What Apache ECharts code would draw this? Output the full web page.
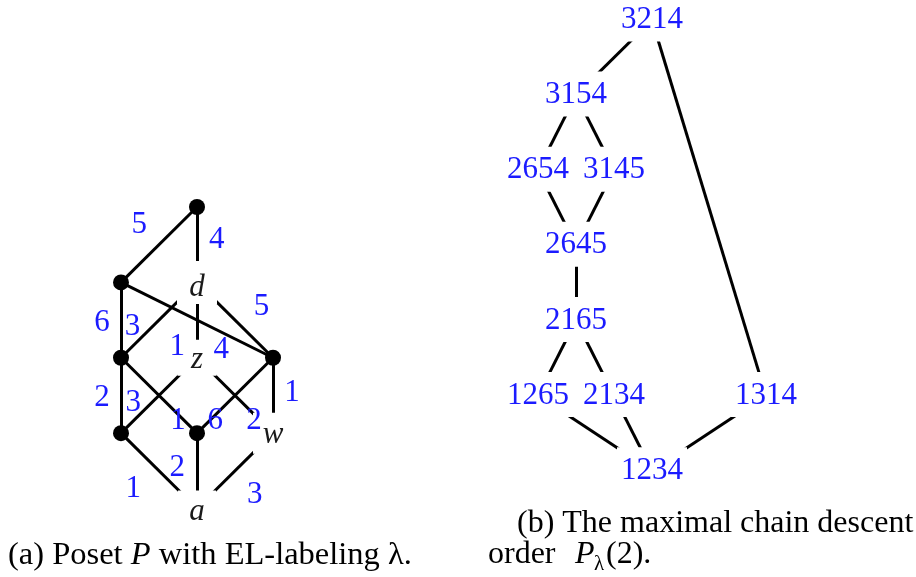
<!DOCTYPE html>
<html><head><meta charset="utf-8">
<script src="https://cdn.jsdelivr.net/npm/echarts@6/dist/echarts.min.js"></script>
<style>html,body{margin:0;padding:0;background:#fff}#c{width:916px;height:577px}</style>
</head><body><div id="c"></div>
<script>
// ---------- Panel (a): poset P with EL-labeling ----------
const posetNodes = ['top', 'u', 'd', 'm', 'z', 'r', 'l', 'c', 'w', 'a'];
const posetCol   = [1, 0, 1, 0, 1, 2, 0, 1, 2, 1];
const posetRank  = [4, 3, 3, 2, 2, 2, 1, 1, 1, 0];
const posetText  = ['', '', 'd', '', 'z', '', '', '', 'w', 'a']; // '' = black dot
const posetEdges = [
  ['top','u'], ['top','d'], ['u','m'], ['u','r'], ['d','m'], ['d','z'], ['d','r'], ['m','l'],
  ['m','c'], ['z','l'], ['z','w'], ['r','c'], ['r','w'], ['l','a'], ['c','a'], ['w','a']
];
const edgeLabels = [5, 4, 6, 4, 3, 1, 5, 2, 1, 3, 2, 6, 1, 1, 2, 3];
const edgeLabelAt = [
  [0.24, 3.76], [1.26, 3.56], [-0.25, 2.46], [1.32, 2.10], [0.15, 2.41], [0.74, 2.15], [1.85, 2.68], [-0.25, 1.47],
  [0.75, 1.16], [0.16, 1.40], [1.75, 1.16], [1.24, 1.16], [2.25, 1.53], [0.16, 0.26], [0.74, 0.54], [1.76, 0.18]
];

// ---------- Panel (b): maximal chain descent order ----------
const chainNodes = ['3214', '3154', '2654', '3145', '2645', '2165', '1265', '2134', '1314', '1234'];
const chainCol   = [3, 1, 0, 2, 1, 1, 0, 2, 6, 3];
const chainRank  = [6, 5, 4, 4, 3, 2, 1, 1, 1, 0];
const chainEdges = [
  ['3214','3154'], ['3214','1314'], ['3154','2654'], ['3154','3145'], ['2654','2645'], ['3145','2645'],
  ['2645','2165'], ['2165','1265'], ['2165','2134'], ['1265','1234'], ['2134','1234'], ['1314','1234']
];

// ---------- styles ----------
const BLUE = '#1b1bff';
const SERIF = "'Liberation Serif', 'Times New Roman', serif";
const letterBox = { d: [40, 43], z: [39, 36], w: [40, 41], a: [38, 36] };
const letterShift = { d: [0, 5], z: [0, 2], w: [0, 2], a: [0, 3] };

const posetData = posetNodes.map((n, i) => {
  const t = posetText[i];
  if (!t) {
    return { name: n, value: [posetCol[i], posetRank[i]], symbol: 'circle', symbolSize: 16,
             itemStyle: { color: '#000' }, label: { show: false } };
  }
  return { name: n, value: [posetCol[i], posetRank[i]], symbol: 'rect', symbolSize: letterBox[t],
           itemStyle: { color: '#fff' },
           label: { show: true, position: 'inside', formatter: t, offset: letterShift[t],
                    color: '#1a1a1a', fontSize: 31, fontStyle: 'italic', fontFamily: SERIF } };
});

const chainData = chainNodes.map((n, i) => ({
  name: n, value: [chainCol[i], chainRank[i]], symbol: 'rect', symbolSize: [70, 45],
  symbolOffset: [0, -1],
  itemStyle: { color: '#fff' },
  label: { show: true, position: 'inside', formatter: n, offset: [0, 1],
           color: BLUE, fontSize: 31, fontFamily: SERIF }
}));

const chart = echarts.init(document.getElementById('c'), null, { renderer: 'canvas' });
const capFont = 32;
chart.setOption({
  animation: false,
  backgroundColor: '#fff',
  grid: [
    { left: 45, width: 304, top: 207, height: 301.5 },
    { left: 538, width: 228, top: 20, height: 450.7 }
  ],
  xAxis: [
    { gridIndex: 0, type: 'value', min: -1, max: 3, show: false },
    { gridIndex: 1, type: 'value', min: 0, max: 6, show: false }
  ],
  yAxis: [
    { gridIndex: 0, type: 'value', min: 0, max: 4, show: false },
    { gridIndex: 1, type: 'value', min: 0, max: 6, show: false }
  ],
  series: [
    {
      type: 'graph', coordinateSystem: 'cartesian2d', xAxisIndex: 0, yAxisIndex: 0, layout: 'none',
      data: posetData,
      links: posetEdges.map(e => ({ source: e[0], target: e[1] })),
      lineStyle: { color: '#000', width: 3, opacity: 1 },
      silent: true, z: 2
    },
    {
      type: 'scatter', xAxisIndex: 0, yAxisIndex: 0,
      data: edgeLabelAt.map((p, i) => [p[0], p[1], edgeLabels[i]]),
      symbolSize: 1, itemStyle: { color: 'rgba(0,0,0,0)', opacity: 1 }, clip: false,
      label: { show: true, position: 'inside', formatter: p => String(p.value[2]),
               color: BLUE, fontSize: 31, fontFamily: SERIF },
      silent: true, z: 5
    },
    {
      type: 'graph', coordinateSystem: 'cartesian2d', xAxisIndex: 1, yAxisIndex: 1, layout: 'none',
      data: chainData,
      links: chainEdges.map(e => ({ source: e[0], target: e[1] })),
      lineStyle: { color: '#000', width: 3, opacity: 1 },
      silent: true, z: 2
    }
  ],
  graphic: [
    { type: 'text', left: 8, top: 539, style: {
        text: '(a) Poset {i|P} with EL-labeling λ.', font: '32.5px ' + SERIF, fill: '#000',
        rich: { i: { fontStyle: 'italic', fontSize: 32.5, fontFamily: SERIF } } } },
    { type: 'text', left: 517, top: 508, style: {
        text: '(b) The maximal chain descent', font: capFont + 'px ' + SERIF, fill: '#000' } },
    { type: 'text', left: 488, top: 539, style: {
        text: 'order', font: capFont + 'px ' + SERIF, fill: '#000' } },
    { type: 'text', left: 575, top: 539, style: {
        text: 'P', font: 'italic ' + capFont + 'px ' + SERIF, fill: '#000' } },
    { type: 'text', left: 594, top: 554, style: {
        text: 'λ', font: '21px ' + SERIF, fill: '#000' } },
    { type: 'text', left: 606, top: 539, style: {
        text: '(2).', font: capFont + 'px ' + SERIF, fill: '#000' } }
  ]
});
</script></body></html>
